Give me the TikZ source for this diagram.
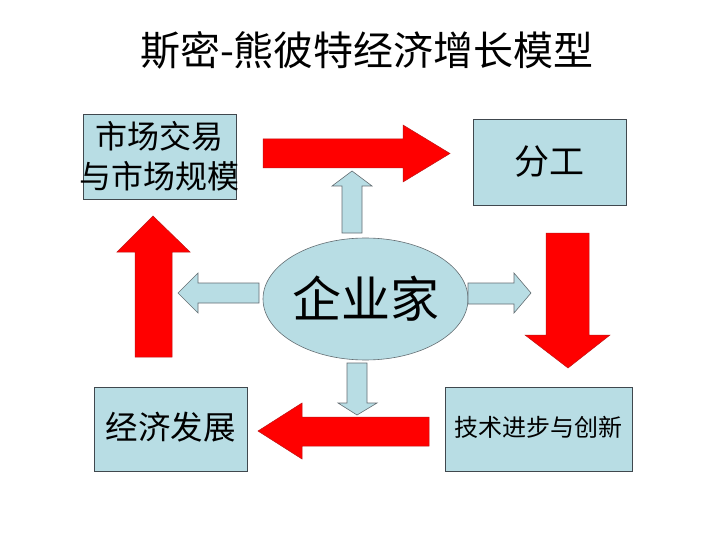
\documentclass[tikz,border=0pt]{standalone}
\usepackage{fontspec}
\newfontfamily\cjk{Noto Sans CJK SC}
\usetikzlibrary{shapes.geometric}
\definecolor{boxblue}{RGB}{184,221,228}
\definecolor{boxline}{RGB}{64,72,78}
\definecolor{arrred}{RGB}{255,0,0}
\definecolor{redline}{RGB}{190,20,20}
\definecolor{lightline}{RGB}{100,110,115}
\tikzset{
  boxnode/.style={draw=boxline, fill=boxblue, line width=0.8pt, inner sep=0pt, rectangle},
  txt/.style={font=\cjk, text=black, align=center, inner sep=0pt},
  redarrow/.style={fill=arrred, draw=redline, line width=0.5pt},
  bluearrow/.style={fill=boxblue, draw=lightline, line width=0.6pt},
}
\begin{document}
\begin{tikzpicture}[x=1pt,y=-1pt]
\useasboundingbox (0,0) rectangle (720,540);
\fill[white] (0,0) rectangle (720,540);

% title
\node[txt, font=\cjk\fontsize{40}{44}\selectfont] (title) at (367,50) {斯密-熊彼特经济增长模型};

% boxes
\node[boxnode, minimum width=153pt, minimum height=85pt] (b1) at (159.5,156.5) {};
\node[boxnode, minimum width=153pt, minimum height=86pt] (b2) at (549.5,162) {};
\node[boxnode, minimum width=153pt, minimum height=84pt] (b3) at (170.5,429) {};
\node[boxnode, minimum width=187pt, minimum height=84pt] (b4) at (538.5,429) {};

\node[txt, font=\cjk\fontsize{32}{40}\selectfont] (t1) at (b1.center) {市场交易\\与市场规模};
\node[txt, font=\cjk\fontsize{35}{40}\selectfont] (t2) at (b2.center) {分工};
\node[txt, font=\cjk\fontsize{32.5}{40}\selectfont] (t3) at ([yshift=2pt]b3.center) {经济发展};
\node[txt, font=\cjk\fontsize{24}{30}\selectfont] (t4) at ([yshift=2pt]b4.center) {技术进步与创新};

% center ellipse
\node[ellipse, draw=lightline, fill=boxblue, line width=0.6pt, minimum width=205pt, minimum height=122pt, inner sep=0pt] (ent) at (365.5,299) {};
\node[txt, font=\cjk\fontsize{49}{54}\selectfont] (entt) at (ent.center) {企业家};

% red block arrows
\draw[redarrow] (263,139) -- (403,139) -- (403,125) -- (450,153.5) -- (403,182) -- (403,168) -- (263,168) -- cycle;
\draw[redarrow] (546,233) -- (589,233) -- (589,335) -- (610,335) -- (568,368) -- (525,335) -- (546,335) -- cycle;
\draw[redarrow] (429,417) -- (302,417) -- (302,403) -- (258,431) -- (302,459) -- (302,446) -- (429,446) -- cycle;
\draw[redarrow] (135,357) -- (135,252) -- (117,252) -- (153,216) -- (190,252) -- (172,252) -- (172,357) -- cycle;

% light block arrows from entrepreneur
\draw[bluearrow] (342,233) -- (342,186) -- (332,186) -- (352,171) -- (372,186) -- (362,186) -- (362,233) -- cycle;
\draw[bluearrow] (259,283) -- (198,283) -- (198,273) -- (178,293) -- (198,313) -- (198,303) -- (259,303) -- cycle;
\draw[bluearrow] (468,283) -- (514,283) -- (514,273) -- (531,293) -- (514,313) -- (514,304) -- (468,304) -- cycle;
\draw[bluearrow] (347,363) -- (367,363) -- (367,403) -- (377,403) -- (357,415) -- (338,403) -- (347,403) -- cycle;
\end{tikzpicture}
\end{document}
